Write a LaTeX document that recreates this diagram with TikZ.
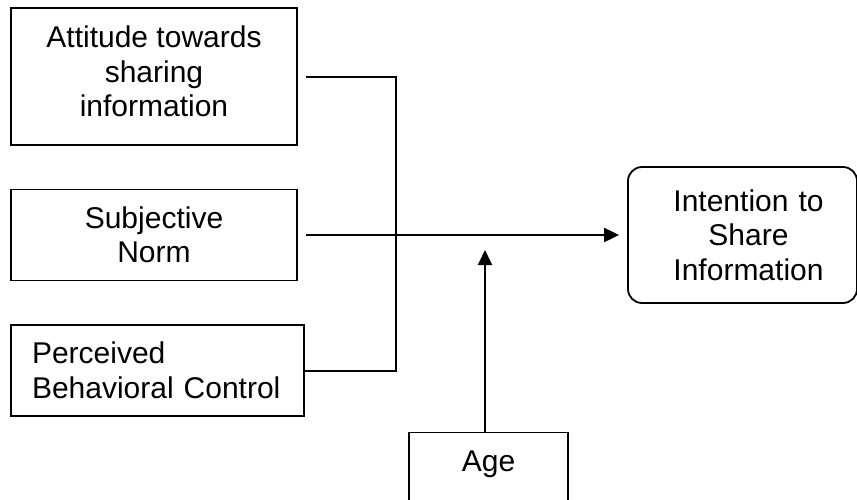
\documentclass[tikz,border=0pt]{standalone}
\usepackage{fontspec}
\setmainfont{Liberation Sans}
\usetikzlibrary{arrows.meta}

\begin{document}
\begin{tikzpicture}[x=1pt,y=-1pt,
  every node/.style={font=\fontsize{30}{34.5}\selectfont},
  box/.style={draw, line width=1.8pt, inner sep=0pt, align=center},
  link/.style={line width=2pt},
  flow/.style={line width=2pt, -{Triangle[length=15pt,width=14pt]}}
]
  \path[use as bounding box, fill=white] (0,0) rectangle (857,499);
  \clip (0,0) rectangle (857,499);

  % predictor boxes
  \node[box, minimum width=286pt, minimum height=137pt, text depth=10pt]
    (att) at (154,76.5) {Attitude towards\\sharing\\information};
  \node[box, minimum width=286pt, minimum height=91pt]
    (sn) at (154,235) {Subjective\\Norm};
  \node[box, minimum width=293pt, minimum height=91pt, align=left,
        text width=251pt]
    (pbc) at (157.5,370.5) {Perceived\\Behavioral Control};

  % outcome box
  \node[box, rounded corners=14pt, minimum width=229pt, minimum height=136pt,
        text width=229pt]
    (int) at (742.5,235) {\hspace*{12pt}Intention to\\\hspace*{12pt}Share\\\hspace*{12pt}Information};

  % moderator box
  \node[box, minimum width=159pt, text height=39pt, text depth=40pt]
    (age) at (488.5,472) {Age};

  % connectors
  \coordinate (jn) at (396,0);
  \coordinate (agetip) at (485,250);
  \draw[link] ([xshift=8pt]att.east) -- (att.east -| jn) -- (pbc.east -| jn) -- (pbc.east);
  \draw[flow, shorten >=8pt] ([xshift=8pt]sn.east) -- (int.west);
  \draw[flow] (age.north -| agetip) -- (agetip);
\end{tikzpicture}
\end{document}
